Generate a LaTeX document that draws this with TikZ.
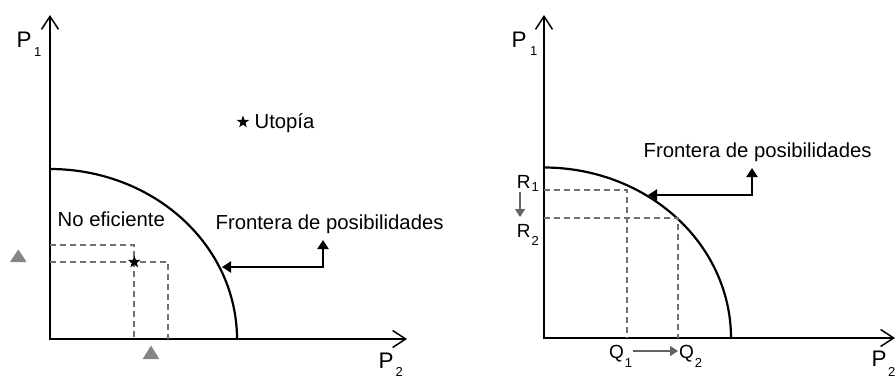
\documentclass[tikz,border=0pt]{standalone}
\usepackage{fontspec}
\setmainfont{Liberation Sans}
\usetikzlibrary{arrows.meta,shapes.geometric}
\definecolor{dashgray}{HTML}{707070}
\definecolor{markgray}{HTML}{858585}
\definecolor{arrgray}{HTML}{646464}
\newcommand{\mysub}[3]{\kern#2pt\raisebox{-#3pt}{\fontsize{13}{13}\selectfont #1}}
\begin{document}
\begin{tikzpicture}[x=1pt,y=-1pt,
  txt/.style={inner sep=0pt, anchor=base west, font=\fontsize{20.3}{24}\selectfont},
  plab/.style={inner sep=0pt, anchor=base west, font=\fontsize{22.5}{26}\selectfont},
  rlab/.style={inner sep=0pt, anchor=base west, font=\fontsize{19}{22}\selectfont},
  axisline/.style={line width=2.3pt, line join=miter,
    arrows={Straight Barb[length=13pt,width=17pt,line width=1.5pt]-Straight Barb[length=13pt,width=17pt,line width=1.5pt]}},
  frontier/.style={line width=2.2pt},
  guide/.style={dashgray, line width=1.7pt, dash pattern=on 6pt off 4pt},
  conn/.style={line width=2.2pt, line join=miter,
    arrows={Triangle[length=9pt,width=11pt]-Triangle[length=9pt,width=11pt]}},
  grayarrow/.style={arrgray, line width=1.7pt, -{Triangle[length=8pt,width=10pt]}},
  starmark/.style={star, star points=5, star point ratio=2.5, fill=black, draw=none, minimum size=13pt, inner sep=0pt},
  trimark/.style={markgray}
]
\useasboundingbox (0,0) rectangle (896,378);

% ---------------- left diagram ----------------
\coordinate (LO) at (50,339);
\coordinate (LY) at (50,15);
\coordinate (LX) at (407,339);
\draw[axisline] (LY) -- (LO) -- (LX);
\draw[frontier] plot[domain=0:90, samples=90, smooth] ({50+187*cos(\x)},{339-170*sin(\x)});

\node[plab] (lp1) at (16.5,47.5) {P\mysub{1}{2.5}{9}};
\node[plab] (lp2) at (378.4,368.5) {P\mysub{2}{2}{7.5}};

\coordinate (la) at (50,245);
\coordinate (lb) at (134,245);
\coordinate (lc) at (134,339);
\coordinate (ld) at (50,262);
\coordinate (le) at (168,262);
\coordinate (lf) at (168,339);
\draw[guide] (la) -- (lb) -- (lc);
\draw[guide] (ld) -- (le) -- (lf);
\node[starmark] (lstar) at (134.3,262) {};

\node[starmark] (ustar) at (243,122) {};
\node[txt] (utop) at (254.4,128) {Utopía};
\node[txt] (noef) at (57.5,226) {No eficiente};
\node[txt] (lfront) at (215.4,229) {Frontera de posibilidades};

\coordinate (lup) at (323,240);
\coordinate (lcorner) at (323,267);
\coordinate (ltip) at (222,267);
\draw[conn] (lup) -- (lcorner) -- (ltip);

\fill[trimark] (10,262) -- (26.6,262) -- (18.3,249.5) -- cycle;
\fill[trimark] (142.7,359) -- (159.3,359) -- (151,345.5) -- cycle;

% ---------------- right diagram ----------------
\coordinate (RO) at (544,338);
\coordinate (RY) at (544,15);
\coordinate (RX) at (895,338);
\draw[axisline] (RY) -- (RO) -- (RX);
\draw[frontier] plot[domain=0:90, samples=90, smooth] ({544+187*cos(\x)},{338-170.5*sin(\x)});

\node[plab] (rp1) at (511.4,47) {P\mysub{1}{3.5}{8.5}};
\node[plab] (rp2) at (871.4,366) {P\mysub{2}{1.5}{10}};

\coordinate (ra) at (544,190);
\coordinate (rb) at (627,190);
\coordinate (rc) at (627,338);
\coordinate (rd) at (544,218);
\coordinate (re) at (678,218);
\coordinate (rf) at (678,338);
\draw[guide] (ra) -- (rb) -- (rc);
\draw[guide] (rd) -- (re) -- (rf);

\node[txt] (rfront) at (643.4,157) {Frontera de posibilidades};
\coordinate (rup) at (752,168);
\coordinate (rcorner) at (752,195);
\coordinate (rtip) at (648,195);
\draw[conn] (rup) -- (rcorner) -- (rtip);

\node[rlab] (r1) at (516.6,188) {R\mysub{1}{1}{3.5}};
\node[rlab] (r2) at (516.6,237) {R\mysub{2}{1}{8}};
\coordinate (rarrs) at (520,192);
\coordinate (rarre) at (520,217);
\draw[grayarrow] (rarrs) -- (rarre);

\node[rlab] (q1) at (609,358) {Q\mysub{1}{1}{9}};
\node[rlab] (q2) at (679,358) {Q\mysub{2}{1}{9}};
\coordinate (qarrs) at (633,351);
\coordinate (qarre) at (678,351);
\draw[grayarrow] (qarrs) -- (qarre);
\end{tikzpicture}
\end{document}
